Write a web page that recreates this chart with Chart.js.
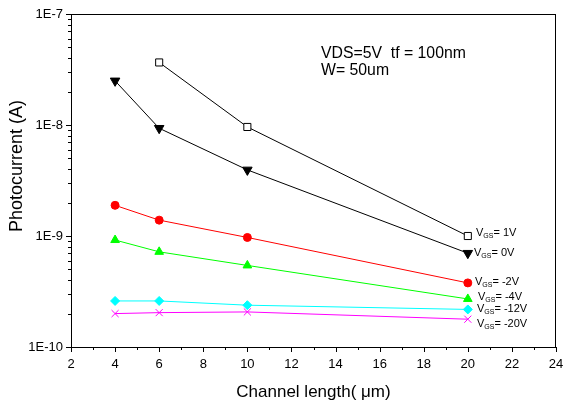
<!DOCTYPE html>
<html>
<head>
<meta charset="utf-8">
<script src="https://cdn.jsdelivr.net/npm/chart.js@4"></script>
<style>
  html, body { margin: 0; padding: 0; background: #fff; }
  canvas { display: block; }
</style>
</head>
<body>
<canvas id="photoChart" width="563" height="408"></canvas>
<script>
// channel length (um) and photocurrent (A) for each gate bias
const channelLength = [4, 6, 10, 20];
const vgs1V   = [null, 3.66e-8, 9.6e-9, 1.0e-9];
const vgs0V   = [2.5e-8, 9.35e-9, 3.94e-9, 7.0e-10];
const vgsM2V  = [1.89e-9, 1.39e-9, 9.7e-10, 3.78e-10];
const vgsM4V  = [9.2e-10, 7.2e-10, 5.43e-10, 2.71e-10];
const vgsM12V = [2.6e-10, 2.6e-10, 2.38e-10, 2.18e-10];
const vgsM20V = [2.0e-10, 2.04e-10, 2.07e-10, 1.78e-10];
const biasLabels = ['1V', '0V', '-2V', '-4V', '-12V', '-20V'];

const xTicks = [2, 4, 6, 8, 10, 12, 14, 16, 18, 20, 22, 24];
const yDecades = [-10, -9, -8, -7];

const FONT = "'Liberation Sans', Arial, sans-serif";

function points(vals) {
    return channelLength.map((x, i) => ({ x: x, y: vals[i] })).filter(p => p.y !== null);
}

function series(label, vals, color, style, radius, fill, rotation) {
    return {
        label: label,
        data: points(vals),
        borderColor: color,
        borderWidth: 1,
        pointStyle: style,
        pointRadius: radius,
        pointRotation: rotation || 0,
        pointBackgroundColor: fill,
        pointBorderColor: color,
        pointBorderWidth: 1,
        tension: 0
    };
}

// right-hand labels: [x, y] of the "V"
const labelSpots = [[476, 233], [474, 253], [475, 282], [478, 297], [477, 309], [477, 324]];

const decorations = {
    id: 'decorations',
    afterDraw(chart) {
        const { ctx, chartArea: a, scales: { x, y } } = chart;
        ctx.save();
        ctx.strokeStyle = '#000';
        ctx.lineWidth = 1;
        ctx.strokeRect(a.left + 0.5, a.top + 0.5, a.right - a.left - 1, a.bottom - a.top);

        ctx.beginPath();
        for (let v = xTicks[0]; v <= xTicks[xTicks.length - 1]; v++) {
            const px = Math.round(x.getPixelForValue(v)) + 0.5;
            const len = v % 2 === 0 ? 5 : 3;
            ctx.moveTo(px, a.bottom);
            ctx.lineTo(px, a.bottom + len);
        }
        for (const e of yDecades) {
            for (let m = 1; m <= 9; m++) {
                if (e === yDecades[yDecades.length - 1] && m > 1) break;
                const py = Math.round(y.getPixelForValue(m * Math.pow(10, e))) + 0.5;
                ctx.moveTo(a.left - (m === 1 ? 5 : 3), py);
                ctx.lineTo(a.left, py);
            }
        }
        ctx.stroke();

        ctx.fillStyle = '#000';
        // y axis title
        ctx.save();
        ctx.translate(17, 166);
        ctx.rotate(-Math.PI / 2);
        ctx.font = '18px ' + FONT;
        ctx.textAlign = 'center';
        ctx.textBaseline = 'middle';
        ctx.fillText('Photocurrent (A)', 0, 0);
        ctx.restore();

        // conditions
        ctx.font = '15.8px ' + FONT;
        ctx.textAlign = 'left';
        ctx.textBaseline = 'middle';
        ctx.fillText('VDS=5V  tf = 100nm', 321, 54);
        ctx.fillText('W= 50um', 321, 71);

        // bias labels
        biasLabels.forEach((b, i) => {
            let [lx, ly] = labelSpots[i];
            ctx.font = '11px ' + FONT;
            ctx.fillText('V', lx, ly);
            lx += ctx.measureText('V').width;
            ctx.font = '7px ' + FONT;
            ctx.fillText('GS', lx, ly + 3);
            lx += ctx.measureText('GS').width;
            ctx.font = '11px ' + FONT;
            ctx.fillText('= ' + b, lx, ly);
        });
        ctx.restore();
    }
};

new Chart(document.getElementById('photoChart').getContext('2d'), {
    type: 'line',
    data: {
        datasets: [
            series('1V', vgs1V, '#000000', 'rect', 5, '#ffffff'),
            series('0V', vgs0V, '#000000', 'triangle', 5.5, '#000000', 180),
            series('-2V', vgsM2V, '#ff0000', 'circle', 4, '#ff0000'),
            series('-4V', vgsM4V, '#00ff00', 'triangle', 5, '#00ff00'),
            series('-12V', vgsM12V, '#00ffff', 'rectRot', 4.5, '#00ffff'),
            series('-20V', vgsM20V, '#ff00ff', 'crossRot', 5, '#ff00ff')
        ]
    },
    options: {
        responsive: false,
        animation: false,
        layout: { padding: { top: 14, right: 7, left: 0, bottom: 0 } },
        plugins: {
            legend: { display: false },
            tooltip: { enabled: false }
        },
        scales: {
            x: {
                type: 'linear',
                min: 2,
                max: 24,
                grid: { display: false, drawTicks: false },
                border: { display: false },
                ticks: {
                    stepSize: 1,
                    autoSkip: false,
                    maxRotation: 0,
                    padding: 10,
                    color: '#000',
                    font: { family: FONT, size: 13 },
                    callback: (v) => (xTicks.includes(v) ? String(v) : '')
                },
                title: {
                    display: true,
                    text: 'Channel length( \u03bcm)',
                    color: '#000',
                    font: { family: FONT, size: 17 },
                    padding: { top: 0, bottom: 5 }
                },
                afterFit: (scale) => {
                    scale.height = 61;
                    scale.paddingLeft = 0;
                    scale.paddingRight = 0;
                }
            },
            y: {
                type: 'logarithmic',
                min: 1e-10,
                max: 1e-7,
                grid: { display: false, drawTicks: false },
                border: { display: false },
                ticks: {
                    autoSkip: false,
                    padding: 8,
                    color: '#000',
                    font: { family: FONT, size: 13 },
                    callback: (v) => {
                        const e = Math.log10(v);
                        return Math.abs(e - Math.round(e)) < 1e-6 ? '1E' + Math.round(e) : '';
                    }
                },
                afterFit: (scale) => {
                    scale.width = 71;
                    scale.paddingTop = 0;
                    scale.paddingBottom = 0;
                }
            }
        }
    },
    plugins: [decorations]
});
</script>
</body>
</html>
